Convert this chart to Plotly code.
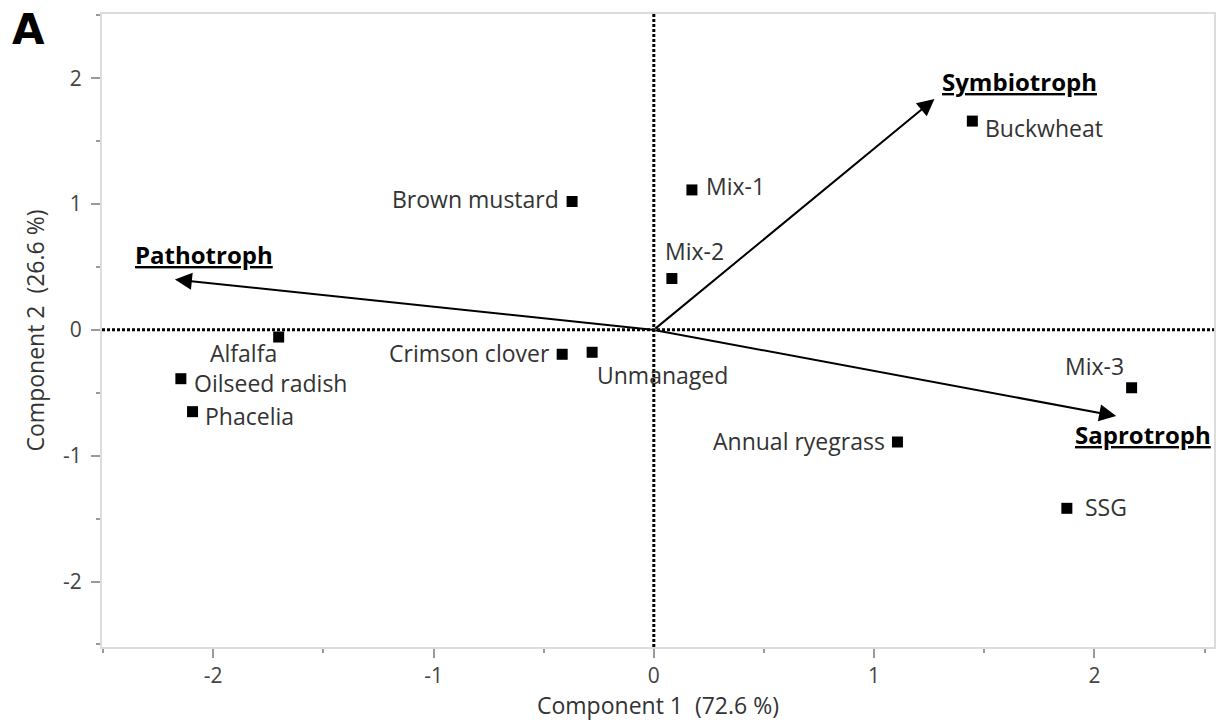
import plotly.graph_objects as go

# Site scores on the first two principal components
treatments = ["Buckwheat", "Mix-1", "Brown mustard", "Mix-2", "Alfalfa",
              "Crimson clover", "Unmanaged", "Oilseed radish", "Phacelia",
              "Mix-3", "Annual ryegrass", "SSG"]
comp1 = [1.446, 0.173, -0.371, 0.082, -1.703, -0.416, -0.280, -2.147,
         -2.094, 2.169, 1.106, 1.875]
comp2 = [1.659, 1.112, 1.020, 0.408, -0.057, -0.194, -0.178, -0.388,
         -0.650, -0.460, -0.891, -1.418]

# Functional-guild loadings (arrow tips)
guilds = ["Pathotroph", "Symbiotroph", "Saprotroph"]
guild_x = [-2.174, 1.274, 2.099]
guild_y = [0.400, 1.835, -0.685]

tick_values = [-2, -1, 0, 1, 2]
tick_labels = ["-2", "-1", "0", "1", "2"]

x_title = "Component 1\u00a0 (72.6 %)"
y_title = "Component 2\u00a0 (26.6 %)"
panel_tag = "A"

FONT = "Open Sans"
TXT = "#333333"

# label placement: (xanchor, xshift, yshift) in pixels relative to the marker
label_pos = {
    "Buckwheat": ("left", 11, -7),
    "Mix-1": ("left", 12, 4),
    "Brown mustard": ("right", -11, 3),
    "Mix-2": ("left", -9, 28),
    "Alfalfa": ("right", 0, -16),
    "Crimson clover": ("right", -10, 1),
    "Unmanaged": ("left", 3, -23),
    "Oilseed radish": ("left", 11, -4),
    "Phacelia": ("left", 10, -4),
    "Mix-3": ("right", -6, 22),
    "Annual ryegrass": ("right", -10, 1),
    "SSG": ("left", 16, 1),
}
guild_pos = {
    "Pathotroph": (29, 25),
    "Symbiotroph": (85, 17),
    "Saprotroph": (27, -18),
}

fig = go.Figure()

fig.add_trace(go.Scatter(
    x=comp1, y=comp2, mode="markers",
    marker=dict(symbol="square", size=11, color="black"),
    hoverinfo="text", text=treatments, showlegend=False,
))

annotations = []
for name, xv, yv in zip(treatments, comp1, comp2):
    anchor, dx, dy = label_pos[name]
    annotations.append(dict(
        x=xv, y=yv, xref="x", yref="y", text=name, showarrow=False,
        xanchor=anchor, yanchor="middle", xshift=dx, yshift=dy,
        font=dict(family=FONT, size=23, color=TXT),
    ))

for name, gx, gy in zip(guilds, guild_x, guild_y):
    annotations.append(dict(
        x=gx, y=gy, xref="x", yref="y", ax=0, ay=0, axref="x", ayref="y",
        text="", showarrow=True, arrowhead=2, arrowsize=1.7, arrowwidth=2,
        arrowcolor="black",
    ))
    dx, dy = guild_pos[name]
    annotations.append(dict(
        x=gx, y=gy, xref="x", yref="y", text=f"<b><u>{name}</u></b>",
        showarrow=False, xanchor="center", yanchor="middle",
        xshift=dx, yshift=dy,
        font=dict(family=FONT, size=24, color="black"),
    ))

annotations.append(dict(
    x=-0.0665, y=0.975, xref="paper", yref="paper", text=f"<b>{panel_tag}</b>",
    showarrow=False, xanchor="center", yanchor="middle",
    font=dict(family="DejaVu Sans", size=42, color="black"),
))

# dotted reference lines through the origin
shapes = [
    dict(type="line", xref="x", yref="paper", x0=0, x1=0, y0=0, y1=1,
         line=dict(color="black", width=3, dash="3px,2px"), layer="below"),
    dict(type="line", xref="paper", yref="y", x0=0, x1=1, y0=0, y1=0,
         line=dict(color="black", width=3, dash="3px,2px"), layer="below"),
]

axis_common = dict(
    showgrid=False, zeroline=False, showline=True, mirror=True,
    linecolor="#dcdcdc", linewidth=2,
    ticks="outside", ticklen=9, tickwidth=1.5, tickcolor="#9a9a9a",
    tickfont=dict(family=FONT, size=21, color="#444444"),
    tickmode="array", tickvals=tick_values, ticktext=tick_labels,
    minor=dict(ticks="outside", ticklen=4, tickwidth=1.5, tickcolor="#9a9a9a",
               dtick=0.5, showgrid=False),
)

fig.update_layout(
    width=1225, height=724,
    margin=dict(l=102, r=9, t=14, b=77),
    plot_bgcolor="white", paper_bgcolor="white",
    xaxis=dict(range=[-2.505, 2.543],
               title=dict(text=x_title, font=dict(family=FONT, size=23, color=TXT),
                          standoff=4),
               **axis_common),
    yaxis=dict(range=[-2.52, 2.51], ticklabelstandoff=5,
               title=dict(text=y_title, font=dict(family=FONT, size=23, color=TXT),
                          standoff=12),
               **axis_common),
    annotations=annotations,
    shapes=shapes,
)

fig.write_html("out.html")
